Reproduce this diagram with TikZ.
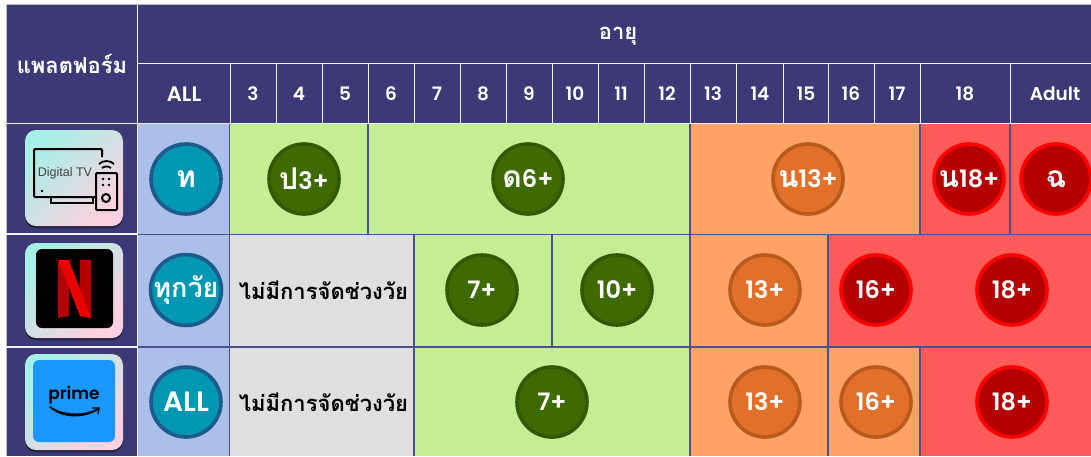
\documentclass[tikz,border=0pt]{standalone}
\usepackage{fontspec}
\setmainfont{Liberation Sans}
\newfontfamily\thf[Script=Thai]{Loma}
\newfontfamily\latf{Poppins Medium}
\newfontfamily\latb{Poppins SemiBold}
\definecolor{navy}{HTML}{3B3976}
\definecolor{gridc}{HTML}{4F4F90}
\definecolor{hline}{HTML}{F2F2F6}
\definecolor{cblue}{HTML}{AAC0E8}
\definecolor{cgreen}{HTML}{C4EE94}
\definecolor{corange}{HTML}{FFA366}
\definecolor{cred}{HTML}{FF5B5B}
\definecolor{cgray}{HTML}{DFDFDF}
\definecolor{cprime}{HTML}{1A98FF}
\definecolor{HTMLteal}{HTML}{0097B2}
\definecolor{HTMLtealb}{HTML}{1F5A8C}
\definecolor{HTMLgr}{HTML}{3E6B00}
\definecolor{HTMLgrb}{HTML}{335800}
\definecolor{HTMLor}{HTML}{E0702A}
\definecolor{HTMLorb}{HTML}{B85A1E}
\definecolor{HTMLre}{HTML}{B50000}
\definecolor{HTMLreb}{HTML}{FF0000}
\definecolor{HTMLic1}{HTML}{A6F0E8}
\definecolor{HTMLic2}{HTML}{FFD0E0}
\tikzset{
  x=1pt,y=-1pt,
  badge/.style={circle,minimum size=70pt,inner sep=0pt,line width=3.6pt,text=white,font=\latb\fontsize{24}{24}\selectfont},
  bteal/.style={badge,fill=HTMLteal,draw=HTMLtealb},
  bgreen/.style={badge,fill=HTMLgr,draw=HTMLgrb},
  borange/.style={badge,fill=HTMLor,draw=HTMLorb},
  bred/.style={badge,fill=HTMLre,draw=HTMLreb},
  head/.style={text=white,font=\latb\fontsize{18.5}{19}\selectfont},
  nocat/.style={text=black,font=\thf\bfseries\fontsize{22}{22}\selectfont},
  hrule/.style={draw=hline,line width=1.6pt},
  grule/.style={draw=gridc,line width=1.5pt},
  iconbg/.style={rounded corners=11pt,top color=HTMLic1,bottom color=HTMLic2,shading angle=45},
  iconsh/.style={fill=black!45!navy,rounded corners=11pt},
  tvline/.style={draw=black,line width=2pt}
}
\newcommand{\thb}[1]{{\thf\bfseries\fontsize{30}{30}\selectfont #1}}
\begin{document}
\begin{tikzpicture}
\useasboundingbox (0,0) rectangle (1091,456);
\fill[white] (0,0) rectangle (1091,456);
% header and platform column
\fill[navy] (6,4) rectangle (1091,123);
\fill[navy] (6,123) rectangle (138,456);
% row 1
\fill[cblue] (138,123) rectangle (230,456);
\fill[cgreen] (230,123) rectangle (690,234);
\fill[corange] (690,123) rectangle (920,234);
\fill[cred] (920,123) rectangle (1091,234);
% row 2
\fill[cgray] (230,234) rectangle (414,456);
\fill[cgreen] (414,234) rectangle (690,456);
\fill[corange] (690,234) rectangle (828,347);
\fill[cred] (828,234) rectangle (1091,347);
% row 3
\fill[corange] (690,347) rectangle (920,456);
\fill[cred] (920,347) rectangle (1091,456);
% body grid
\draw[grule] (138,234.5) -- (1091,234.5) (138,347) -- (1091,347);
\draw[grule] (229.5,123) -- (229.5,456) (368,123) -- (368,234) (1010,123) -- (1010,234);
\draw[grule] (690,123) -- (690,456) (920,123) -- (920,234) (920,347) -- (920,456);
\draw[grule] (414,234) -- (414,456) (552,234) -- (552,347) (828,234) -- (828,456);
% header grid
\draw[draw=hline!70!navy,line width=1pt] (6,4.5) -- (1091,4.5) (6,4) -- (6,456);
\draw[hrule] (137.5,4) -- (137.5,456);
\draw[hrule] (6,123.5) -- (1091,123.5);
\draw[hrule] (138,63.5) -- (1091,63.5);
\draw[hrule] (6,234) -- (137,234) (6,347) -- (137,347);
\foreach \xx in {230,276,322,368,414,460,506,552,598,644,690,736,783,828,874,920,1010}
  \draw[draw=hline,line width=1pt] (\xx,64) -- (\xx,123);
% header text
\node[text=white,font=\thf\bfseries\fontsize{22}{22}\selectfont] (plat) at (72,64) {แพลตฟอร์ม};
\node[text=white,font=\thf\bfseries\fontsize{22}{22}\selectfont] (age) at (618,36) {อายุ};
\node[head,font=\latb\fontsize{21}{21}\selectfont] (hall) at (184,94) {ALL};
\foreach \nm/\xx/\tx in {a/253/3,b/299/4,c/345/5,d/391/6,e/437/7,f/483/8,g/529/9,h/575/10,i/621/11,j/667/12,k/713/13,l/760/14,m/806/15,n/851/16,o/897/17,p/965/18,q/1055/Adult}
  \node[head] (h\nm) at (\xx,94) {\tx};
% icon 1: digital TV
\fill[iconsh] (25,132) rectangle (123,228);
\shade[iconbg] (25,130) rectangle (123,226);
\draw[tvline,rounded corners=1pt] (102,157) -- (102,149) -- (34,149) -- (34,197) -- (95,197);
\draw[tvline] (51,197) -- (51,203) -- (93,203) -- (93,197);
\fill[black] (42,191) circle (1.4);
\node[text=black!75,font=\fontsize{12.5}{12.5}\selectfont,inner sep=0pt] (dtv) at (65,173) {Digital TV};
\draw[draw=black,line width=2pt,rounded corners=1pt] (96,173) rectangle (117,210);
\draw[black,line width=1.8pt] (99,164) .. controls (103,160) and (110,160) .. (114,164);
\draw[black,line width=1.8pt] (102,168) .. controls (104,166) and (109,166) .. (111,168);
\foreach \cx/\cy in {103/179,109/179,103/185,109/185} \fill[black] (\cx,\cy) circle (1.3);
\draw[black,line width=2pt] (106,198) circle (4);
% icon 2: Netflix
\fill[iconsh] (25,245) rectangle (123,340);
\shade[iconbg] (25,243) rectangle (123,338);
\fill[black,rounded corners=6pt] (36,249) rectangle (113,328);
\fill[HTMLre] (58,260) -- (69,260) -- (69,316) -- (58,318) -- cycle;
\fill[HTMLre] (80,260) -- (91,260) -- (91,318) -- (80,316) -- cycle;
\fill[red!92!black] (58,260) -- (69,260) -- (91,318) -- (80,316) -- cycle;
% icon 3: Prime
\fill[iconsh] (25,356) rectangle (123,452);
\shade[iconbg] (25,354) rectangle (123,450);
\fill[cprime,rounded corners=6pt] (33,360) rectangle (115,442);
\node[text=black,font=\latb\fontsize{17}{17}\selectfont,inner sep=0pt] (prm) at (74,395) {prime};
\fill[black] (49,407) .. controls (62,419) and (84,419) .. (98,410) -- (97,408.5) .. controls (84,416) and (62,415) .. (50,406) -- cycle;
\draw[black,line width=1.4pt] (92,408) -- (99,408) -- (98,414);
% badges row 1
\node[bteal] (r1all) at (186,179) {\thb{ท}};
\node[bgreen] (r1p3) at (304,179) {\thb{ป}3+};
\node[bgreen] (r1d6) at (528,179) {\thb{ด}6+};
\node[borange] (r1n13) at (808,179) {\thb{น}13+};
\node[bred] (r1n18) at (969,179) {\thb{น}18+};
\node[bred] (r1c) at (1056,179) {\thb{ฉ}};
% badges row 2
\node[bteal,font=\thf\bfseries\fontsize{27}{27}\selectfont] (r2all) at (186,290) {ทุกวัย};
\node[nocat] (r2no) at (323.5,290) {ไม่มีการจัดช่วงวัย};
\node[bgreen] (r27) at (482,290) {7+};
\node[bgreen] (r210) at (617,290) {10+};
\node[borange] (r213) at (765,290) {13+};
\node[bred] (r216) at (876,290) {16+};
\node[bred] (r218) at (1012,290) {18+};
% badges row 3
\node[bteal,font=\latb\fontsize{28}{28}\selectfont] (r3all) at (186,402) {ALL};
\node[nocat] (r3no) at (323.5,402) {ไม่มีการจัดช่วงวัย};
\node[bgreen] (r37) at (552,402) {7+};
\node[borange] (r313) at (765,402) {13+};
\node[borange] (r316) at (876,402) {16+};
\node[bred] (r318) at (1012,402) {18+};
\end{tikzpicture}
\end{document}
